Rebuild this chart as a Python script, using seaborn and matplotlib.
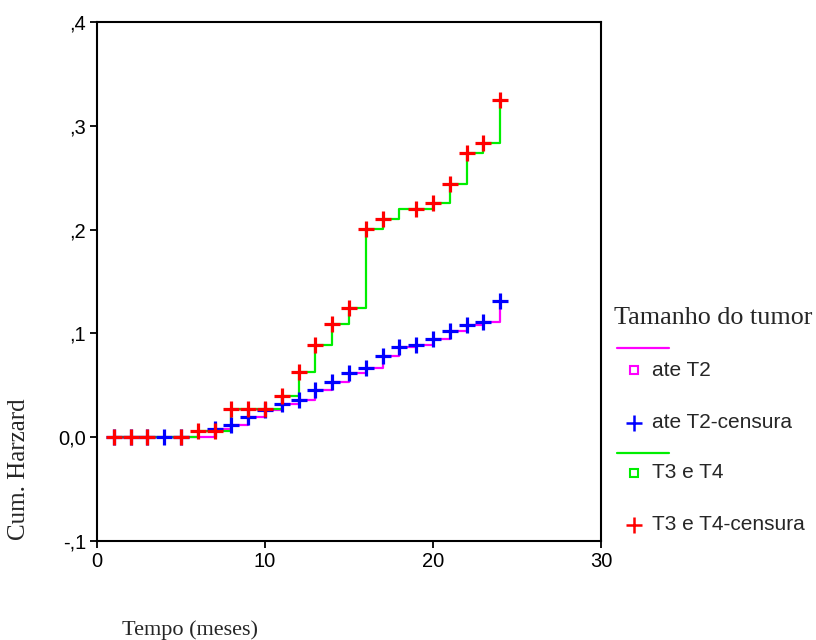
import matplotlib
matplotlib.use("Agg")
import matplotlib.pyplot as plt
import seaborn as sns
from matplotlib.lines import Line2D

# step curves (event times / cumulative hazard)
t2_line_t = [1, 7, 8, 9, 10, 11, 12, 13, 14, 15, 16, 17, 18, 19, 20, 21, 22, 23, 24]
t2_line_h = [0, 0.008, 0.012, 0.019, 0.026, 0.032, 0.036, 0.045, 0.053, 0.062,
             0.067, 0.078, 0.087, 0.089, 0.095, 0.102, 0.108, 0.111, 0.131]
t34_line_t = [1, 6, 8, 11, 12, 13, 14, 15, 16, 17, 18, 20, 21, 22, 23, 24]
t34_line_h = [0, 0.006, 0.027, 0.040, 0.063, 0.089, 0.109, 0.124, 0.201,
              0.210, 0.220, 0.226, 0.244, 0.274, 0.283, 0.325]

# censoring marks
t2_cens_t = [1, 2, 3, 4, 5, 7, 8, 9, 10, 11, 12, 13, 14, 15, 16, 17, 18, 19, 20, 21, 22, 23, 24]
t2_cens_h = [0, 0, 0, 0, 0, 0.008, 0.012, 0.019, 0.026, 0.032, 0.036, 0.045, 0.053,
             0.062, 0.067, 0.078, 0.087, 0.089, 0.095, 0.102, 0.108, 0.111, 0.131]
t34_cens_t = [1, 2, 3, 5, 6, 7, 8, 9, 10, 11, 12, 13, 14, 15, 16, 17, 19, 20, 21, 22, 23, 24]
t34_cens_h = [0, 0, 0, 0, 0.006, 0.006, 0.027, 0.027, 0.027, 0.040, 0.063, 0.089,
              0.109, 0.124, 0.201, 0.210, 0.220, 0.226, 0.244, 0.274, 0.283, 0.325]

y_ticks = [-0.1, 0.0, 0.1, 0.2, 0.3, 0.4]
y_tick_labels = ["-,1", "0,0", ",1", ",2", ",3", ",4"]
x_ticks = [0, 10, 20, 30]

legend_title = "Tamanho do tumor"
legend_labels = ["ate T2", "ate T2-censura", "T3 e T4", "T3 e T4-censura"]

MAG, BLUE, GREEN, RED = "#ff00ff", "#0000ff", "#00ee00", "#ff0000"

sns.set_style("white")
plt.rcParams["font.family"] = ["Liberation Sans", "DejaVu Sans"]

fig = plt.figure(figsize=(8.16, 6.4), dpi=100)
ax = fig.add_axes([97 / 816, 99 / 640, 504 / 816, 519 / 640])

sns.lineplot(x=t2_line_t, y=t2_line_h, drawstyle="steps-post", estimator=None,
             sort=False, color=MAG, linewidth=1.6, ax=ax)
sns.lineplot(x=t34_line_t, y=t34_line_h, drawstyle="steps-post", estimator=None,
             sort=False, color=GREEN, linewidth=1.6, ax=ax)
sns.scatterplot(x=t2_cens_t, y=t2_cens_h, marker="+", s=130, color=BLUE,
                linewidth=2.3, ax=ax, zorder=3)
sns.scatterplot(x=t34_cens_t, y=t34_cens_h, marker="+", s=130, color=RED,
                linewidth=2.3, ax=ax, zorder=4)

ax.set_xlim(0, 30)
ax.set_ylim(-0.1, 0.4)
ax.set_xticks(x_ticks)
ax.set_yticks(y_ticks)
ax.set_yticklabels(y_tick_labels)
ax.tick_params(axis="both", labelsize=14.5, direction="out", length=5, width=1.3,
               colors="black", left=True, bottom=True, pad=3)
for s in ax.spines.values():
    s.set_color("black")
    s.set_linewidth(1.5)
ax.set_xlabel("")
ax.set_ylabel("")
ax.grid(False)

serif = ["Liberation Serif", "DejaVu Serif"]
fig.text(122 / 816, 1 - 630 / 640, "Tempo (meses)", family=serif, fontsize=16,
         ha="left", va="center")
fig.text(19 / 816, 1 - 469 / 640, "Cum. Harzard", family=serif, fontsize=18,
         rotation=90, ha="center", va="center")

# legend drawn by hand to mimic the layout
fig.text(614 / 816, 1 - 318 / 640, legend_title, family=serif, fontsize=18.8,
         ha="left", va="center")
rows = [(370, "s", MAG, legend_labels[0]), (423, "+", BLUE, legend_labels[1]),
        (473, "s", GREEN, legend_labels[2]), (525, "+", RED, legend_labels[3])]
for yy, col in [(348, MAG), (453, GREEN)]:
    fig.add_artist(Line2D([617 / 816, 669 / 816], [1 - yy / 640] * 2, color=col,
                          linewidth=1.6, transform=fig.transFigure))
for yy, mk, col, lab in rows:
    if mk == "s":
        fig.add_artist(Line2D([634 / 816], [1 - yy / 640], marker="s", markersize=6,
                              markerfacecolor="white", markeredgecolor=col,
                              markeredgewidth=1.5, linestyle="none",
                              transform=fig.transFigure))
    else:
        fig.add_artist(Line2D([634 / 816], [1 - yy / 640], marker="+", markersize=11,
                              color=col, markeredgewidth=1.8, linestyle="none",
                              transform=fig.transFigure))
    fig.text(652 / 816, 1 - yy / 640, lab, fontsize=15, ha="left", va="center")

fig.savefig("out.png", dpi=100)
